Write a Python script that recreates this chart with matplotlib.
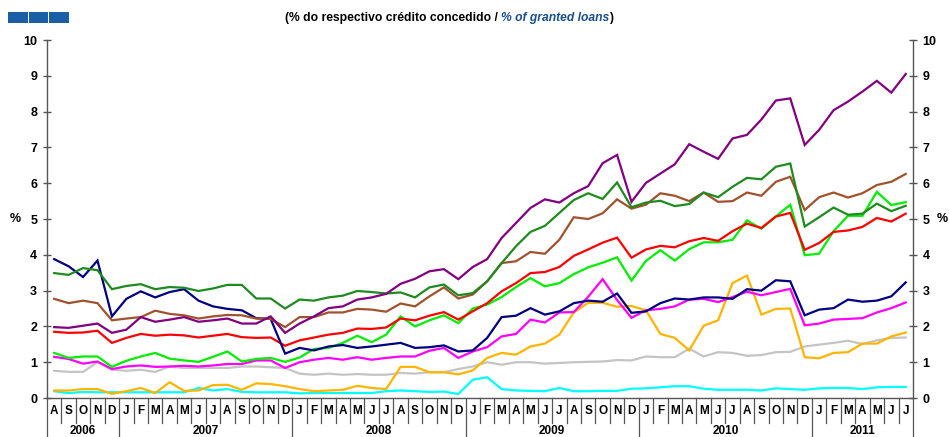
import numpy as np
import matplotlib.pyplot as plt
from matplotlib.patches import Rectangle
from matplotlib.transforms import blended_transform_factory

plt.rcParams['font.family'] = ['Liberation Sans', 'DejaVu Sans']

# Monthly data, Aug 2006 - Jul 2011 (% of granted loans)
months = list('ASOND') + list('JFMAMJJASOND') * 4 + list('JFMAMJJ')
years = ['2006', '2007', '2008', '2009', '2010', '2011']
year_months = [5, 12, 12, 12, 12, 7]

dark_green = [3.49, 3.44, 3.63, 3.57, 3.04,
              3.13, 3.18, 3.04, 3.10, 3.08, 2.99, 3.06, 3.16, 3.16, 2.78, 2.78, 2.50,
              2.75, 2.72, 2.81, 2.86, 2.99, 2.96, 2.92, 2.95, 2.81, 3.09, 3.17, 2.87,
              2.93, 3.26, 3.77, 4.24, 4.64, 4.81, 5.17, 5.53, 5.72, 5.56, 6.02, 5.33,
              5.46, 5.51, 5.36, 5.42, 5.74, 5.61, 5.90, 6.15, 6.11, 6.46, 6.55, 4.79,
              5.05, 5.32, 5.12, 5.15, 5.43, 5.22, 5.37]
navy = [3.88, 3.68, 3.38, 3.84, 2.28,
        2.77, 2.98, 2.81, 2.96, 3.04, 2.72, 2.56, 2.49, 2.45, 2.23, 2.21, 1.24,
        1.40, 1.33, 1.44, 1.48, 1.40, 1.44, 1.49, 1.54, 1.40, 1.42, 1.47, 1.30,
        1.33, 1.68, 2.26, 2.30, 2.51, 2.33, 2.42, 2.65, 2.72, 2.69, 2.92, 2.38,
        2.42, 2.65, 2.78, 2.75, 2.81, 2.81, 2.77, 3.04, 3.00, 3.29, 3.26, 2.31,
        2.47, 2.51, 2.75, 2.69, 2.72, 2.84, 3.23]
brown = [2.77, 2.65, 2.72, 2.65, 2.17,
         2.22, 2.26, 2.44, 2.35, 2.31, 2.22, 2.28, 2.32, 2.31, 2.22, 2.21, 1.98,
         2.26, 2.26, 2.39, 2.39, 2.49, 2.47, 2.41, 2.64, 2.56, 2.84, 3.09, 2.78,
         2.89, 3.26, 3.77, 3.82, 4.08, 4.03, 4.42, 5.05, 5.00, 5.16, 5.55, 5.29,
         5.40, 5.72, 5.65, 5.50, 5.74, 5.48, 5.50, 5.74, 5.65, 6.04, 6.18, 5.25,
         5.61, 5.74, 5.60, 5.72, 5.95, 6.04, 6.26]
purple = [1.98, 1.96, 2.02, 2.08, 1.82,
          1.91, 2.26, 2.13, 2.19, 2.26, 2.13, 2.17, 2.22, 2.08, 2.08, 2.28, 1.82,
          2.08, 2.28, 2.51, 2.56, 2.75, 2.81, 2.91, 3.19, 3.33, 3.54, 3.60, 3.32,
          3.66, 3.88, 4.47, 4.89, 5.31, 5.55, 5.46, 5.72, 5.92, 6.56, 6.79, 5.48,
          6.01, 6.27, 6.53, 7.09, 6.88, 6.68, 7.25, 7.35, 7.78, 8.31, 8.37, 7.07,
          7.49, 8.04, 8.28, 8.56, 8.86, 8.53, 9.05]
red = [1.85, 1.82, 1.83, 1.88, 1.54,
       1.68, 1.79, 1.74, 1.77, 1.75, 1.69, 1.74, 1.79, 1.70, 1.68, 1.69, 1.46,
       1.61, 1.69, 1.77, 1.82, 1.94, 1.93, 1.97, 2.22, 2.17, 2.30, 2.40, 2.19,
       2.42, 2.65, 2.98, 3.21, 3.49, 3.52, 3.66, 3.97, 4.15, 4.34, 4.48, 3.92,
       4.15, 4.25, 4.21, 4.38, 4.47, 4.39, 4.66, 4.87, 4.75, 5.07, 5.17, 4.14,
       4.33, 4.64, 4.68, 4.78, 5.03, 4.93, 5.15]
lime = [1.26, 1.12, 1.16, 1.16, 0.87,
        1.04, 1.16, 1.26, 1.10, 1.05, 1.01, 1.15, 1.30, 1.02, 1.09, 1.12, 1.01,
        1.13, 1.37, 1.40, 1.54, 1.74, 1.56, 1.77, 2.28, 2.00, 2.17, 2.31, 2.09,
        2.50, 2.61, 2.82, 3.10, 3.35, 3.12, 3.21, 3.46, 3.65, 3.78, 3.93, 3.28,
        3.83, 4.13, 3.84, 4.16, 4.35, 4.35, 4.42, 4.96, 4.73, 5.07, 5.40, 3.99,
        4.03, 4.66, 5.09, 5.09, 5.76, 5.39, 5.47]
magenta = [1.15, 1.09, 0.96, 1.02, 0.81,
           0.88, 0.91, 0.87, 0.88, 0.90, 0.88, 0.91, 0.95, 0.95, 1.05, 1.05, 0.84,
           1.00, 1.07, 1.12, 1.07, 1.14, 1.07, 1.12, 1.16, 1.16, 1.32, 1.40, 1.12,
           1.30, 1.42, 1.72, 1.79, 2.19, 2.11, 2.39, 2.40, 2.83, 3.32, 2.74, 2.24,
           2.45, 2.49, 2.56, 2.75, 2.77, 2.68, 2.82, 2.97, 2.87, 2.96, 3.05, 2.03,
           2.08, 2.19, 2.21, 2.23, 2.39, 2.51, 2.67]
gray = [0.76, 0.73, 0.73, 1.00, 0.79,
        0.76, 0.79, 0.73, 0.88, 0.84, 0.84, 0.84, 0.84, 0.88, 0.88, 0.86, 0.84,
        0.68, 0.65, 0.68, 0.65, 0.67, 0.65, 0.65, 0.70, 0.68, 0.72, 0.72, 0.81,
        0.88, 1.00, 0.93, 1.00, 1.00, 0.96, 0.98, 1.00, 1.01, 1.02, 1.06, 1.05,
        1.16, 1.14, 1.14, 1.38, 1.16, 1.28, 1.26, 1.18, 1.20, 1.28, 1.29, 1.44,
        1.49, 1.54, 1.60, 1.51, 1.61, 1.68, 1.69]
orange = [0.21, 0.21, 0.25, 0.25, 0.12,
          0.19, 0.28, 0.14, 0.44, 0.20, 0.21, 0.36, 0.37, 0.23, 0.41, 0.39, 0.33,
          0.25, 0.19, 0.21, 0.23, 0.34, 0.28, 0.25, 0.87, 0.87, 0.72, 0.72, 0.66,
          0.77, 1.12, 1.26, 1.21, 1.44, 1.52, 1.77, 2.39, 2.66, 2.66, 2.55, 2.57,
          2.45, 1.79, 1.68, 1.33, 2.02, 2.17, 3.21, 3.42, 2.33, 2.49, 2.50, 1.14,
          1.11, 1.26, 1.28, 1.52, 1.52, 1.72, 1.83]
cyan = [0.19, 0.14, 0.17, 0.16, 0.16,
        0.16, 0.16, 0.16, 0.16, 0.16, 0.28, 0.21, 0.25, 0.17, 0.16, 0.16, 0.16,
        0.13, 0.14, 0.14, 0.14, 0.14, 0.14, 0.19, 0.21, 0.19, 0.17, 0.18, 0.11,
        0.51, 0.58, 0.25, 0.21, 0.20, 0.19, 0.28, 0.19, 0.19, 0.20, 0.20, 0.26,
        0.27, 0.30, 0.33, 0.33, 0.26, 0.23, 0.23, 0.23, 0.21, 0.27, 0.25, 0.23,
        0.27, 0.28, 0.28, 0.25, 0.30, 0.31, 0.31]

series = [
    (gray, '#c4c4c4'),
    (cyan, '#00ffff'),
    (orange, '#ffb400'),
    (magenta, '#ff00ff'),
    (lime, '#00ee00'),
    (red, '#ff0000'),
    (navy, '#000080'),
    (brown, '#a0522d'),
    (dark_green, '#1e8b1e'),
    (purple, '#800080'),
]

AXIS = '#555555'
BLUE = '#1a5fa6'

fig = plt.figure(figsize=(9.49, 4.37), dpi=100)
fig.set_facecolor('white')
ax = fig.add_axes([0.0495, 0.0892, 0.9125, 0.8192])

x = np.arange(len(months))
for values, color in series:
    ax.plot(x, values, color=color, linewidth=1.6, solid_joinstyle='miter')

ax.set_xlim(-0.5, len(months) - 0.5)
ax.set_ylim(0, 10)

# Spines
ax.spines['top'].set_visible(False)
for side in ['left', 'right', 'bottom']:
    ax.spines[side].set_color(AXIS)
    ax.spines[side].set_linewidth(1.0)

# Y ticks on both sides
ax.set_yticks(range(0, 11))
ax.tick_params(axis='y', which='both', left=True, right=True, labelleft=True,
               labelright=True, direction='inout', length=6, width=1,
               color=AXIS, labelsize=9, pad=4)
for lab in ax.get_yticklabels():
    lab.set_fontweight('bold')

# Month labels
ax.set_xticks(x)
ax.set_xticklabels(months, fontsize=8.5, fontweight='bold')
ax.tick_params(axis='x', length=0, pad=5)

# Month / year separators below the axis
trans = blended_transform_factory(ax.transData, ax.transAxes)
ends = np.cumsum(year_months)
starts = ends - np.array(year_months)
year_bounds = set(starts.tolist()) | set(ends.tolist())
for b in range(len(months) + 1):
    low = -0.12 if b in year_bounds else -0.07
    ax.plot([b - 0.5, b - 0.5], [0, low], color=AXIS, linewidth=0.9,
            transform=trans, clip_on=False)

for yr, s, e in zip(years, starts, ends):
    ax.text((s + e - 1) / 2, -0.074, yr, transform=trans, ha='center', va='top',
            fontsize=8.5, fontweight='bold')

# % markers
fig.text(15 / 949, 1 - 219 / 437, '%', ha='center', va='center',
         fontsize=9, fontweight='bold')
fig.text(942 / 949, 1 - 219 / 437, '%', ha='center', va='center',
         fontsize=9, fontweight='bold')

# Decorative blue squares
for i in range(3):
    fig.patches.append(Rectangle(((8 + i * 20.5) / 949, 1 - 23 / 437), 19.5 / 949, 11 / 437,
                                 transform=fig.transFigure, facecolor=BLUE,
                                 edgecolor='none'))

# Subtitle
t1 = fig.text(285 / 949, 1 - 18 / 437, '(% do respectivo crédito concedido / ',
              ha='left', va='center', fontsize=8.7, fontweight='bold')
t2 = ax.annotate('% of granted loans', xy=(1, 0), xycoords=t1, va='bottom',
                 fontsize=8.7, fontweight='bold', fontstyle='italic', color='#1a4f8a')
ax.annotate(')', xy=(1, 0), xycoords=t2, va='bottom', fontsize=8.7, fontweight='bold')

fig.savefig('out.png', dpi=100, facecolor='white')
